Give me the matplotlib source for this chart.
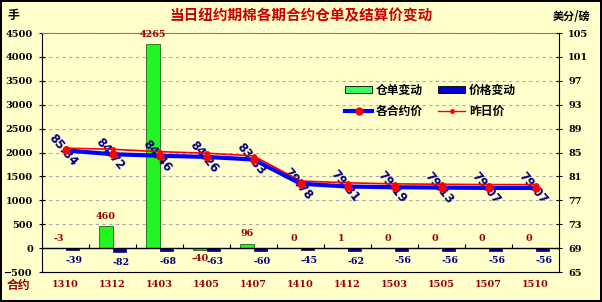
import numpy as np
import matplotlib
matplotlib.use('Agg')
import matplotlib.pyplot as plt
from matplotlib.patches import Patch
from matplotlib.lines import Line2D

plt.rcParams['font.family'] = ['DejaVu Serif', 'Noto Sans CJK SC']
plt.rcParams['font.weight'] = 'bold'

contracts = ['1310', '1312', '1403', '1405', '1407', '1410', '1412', '1503', '1505', '1507', '1510']
warrant_chg = [-3, 460, 4265, -40, 96, 0, 1, 0, 0, 0, 0]
price_chg = [-39, -82, -68, -63, -60, -45, -62, -56, -56, -56, -56]
price_today = [85.34, 84.72, 84.46, 84.26, 83.83, 79.78, 79.31, 79.19, 79.13, 79.07, 79.07]
price_prev = [85.73, 85.54, 85.14, 84.89, 84.43, 80.23, 79.93, 79.75, 79.69, 79.63, 79.63]

BG = '#FFFFCC'
DARKRED = '#990000'
NAVY = '#000080'
CJK = ['Noto Sans CJK SC', 'DejaVu Sans']

fig = plt.figure(figsize=(6.02, 3.02), dpi=100, facecolor=BG,
                 edgecolor='black', linewidth=1.5)
ax = fig.add_axes([0.0698, 0.0993, 0.8588, 0.7914])
ax.set_facecolor(BG)
ax2 = ax.twinx()

x = np.arange(len(contracts))
w = 0.28
ax.bar(x - w / 2, warrant_chg, w, color='#22F522', edgecolor='#114411', linewidth=0.5, zorder=2)
ax.bar(x + w / 2, price_chg, w, color='#0000B0', edgecolor='#000060', linewidth=0.5, zorder=2)

for xi, v in zip(x, warrant_chg):
    above = v > -10
    ax.annotate(str(v), (xi - w / 2, max(v, 0) if above else v),
                xytext=(0, 4 if above else -3), textcoords='offset points',
                ha='center', va='bottom' if above else 'top',
                color=DARKRED, fontsize=6.8, fontweight='bold')
for xi, v in zip(x, price_chg):
    ax.annotate(str(v), (xi + w / 2 + 0.05, v), xytext=(0, -4), textcoords='offset points',
                ha='center', va='top', color=NAVY, fontsize=6.8, fontweight='bold')

ax.axhline(0, color='black', lw=1, zorder=3)
ax.vlines(np.arange(len(contracts) - 1) + 0.5, 0, 80, color='black', lw=0.8, zorder=3)

ax.set_xlim(-0.5, len(contracts) - 0.5)
ax.set_ylim(-500, 4500)
ax.set_yticks(np.arange(-500, 4501, 500))
ax.set_xticks(x)
ax.set_xticklabels(contracts, color=DARKRED, fontsize=7, fontweight='bold')
ax.tick_params(axis='x', length=0, pad=6)
ax.tick_params(axis='y', direction='inout', length=5, pad=4, labelsize=7)
ax.grid(axis='y', color='#AAAAAA', ls=(0, (3, 3)), lw=0.8)
ax.set_axisbelow(True)
ax.spines['top'].set_color('#808080')
ax.spines['right'].set_visible(False)

ax2.plot(x, price_prev, color='red', lw=1.2, marker='o', ms=2.5, zorder=4)
ax2.plot(x, price_today, color='#0000FF', lw=3, marker='o', ms=5,
         mfc='red', mec='red', zorder=5)
for xi, p in zip(x, price_today):
    ax2.text(xi - 0.05, p, f'{p:.2f}', rotation=-50, rotation_mode='anchor',
             ha='center', va='center', color=NAVY, fontsize=8.5,
             fontweight='bold', family='DejaVu Sans', zorder=3)
ax2.set_ylim(65, 105)
ax2.set_yticks(np.arange(65, 106, 4))
ax2.tick_params(axis='y', direction='inout', length=5, pad=4, labelsize=7)
for s in ['top', 'left', 'bottom']:
    ax2.spines[s].set_visible(False)

fig.text(0.5, 0.950, '当日纽约期棉各期合约仓单及结算价变动', ha='center', va='center',
         color='#CC0000', fontsize=10.5, fontweight='bold', family=CJK)
fig.text(0.0216, 0.950, '手', ha='center', va='center', fontsize=8.5,
         fontweight='bold', family=CJK)
fig.text(0.950, 0.947, '美分/磅', ha='center', va='center', fontsize=8,
         fontweight='bold', family=CJK)
fig.text(0.0307, 0.0546, '合约', ha='center', va='center', color=DARKRED,
         fontsize=8.5, fontweight='bold', family=CJK)

handles = [
    Patch(facecolor='#33FF55', edgecolor='black', linewidth=0.6),
    Line2D([], [], color='#0000FF', lw=3, marker='o', ms=5, mfc='red', mec='red'),
    Patch(facecolor='#0000CC', edgecolor='black', linewidth=0.6),
    Line2D([], [], color='red', lw=1, marker='o', ms=2.5),
]
labels = ['仓单变动', '各合约价', '价格变动', '昨日价']
fig.legend(handles, labels, loc='center', bbox_to_anchor=(0.715, 0.666), ncol=2,
           frameon=False, prop={'family': CJK, 'weight': 'bold', 'size': 8.5},
           handlelength=2.3, handleheight=0.5, handletextpad=0.3,
           columnspacing=1.3, labelspacing=0.7)

fig.savefig('out.png', dpi=100, facecolor=BG, edgecolor='black')
